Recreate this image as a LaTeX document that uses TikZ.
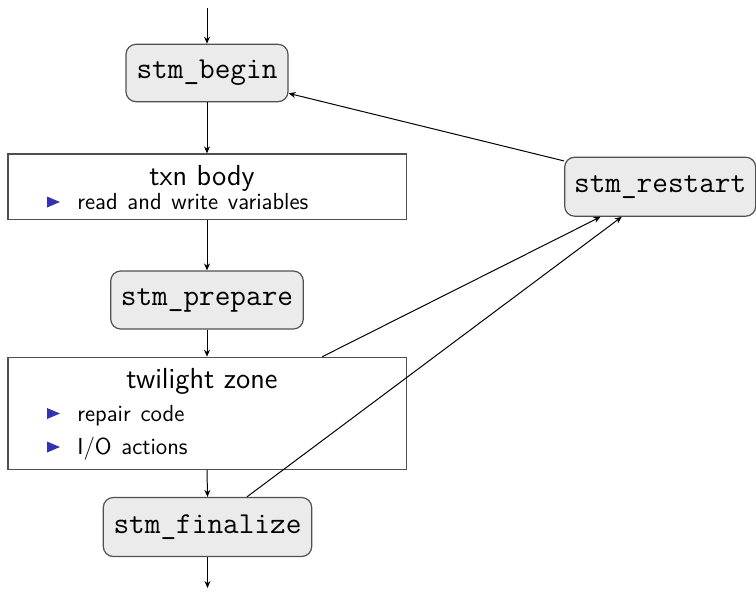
\documentclass[tikz,border=0pt]{standalone}
\usetikzlibrary{arrows.meta,calc}
\definecolor{boxfill}{RGB}{235,235,235}
\definecolor{boxline}{RGB}{80,80,80}
\definecolor{itemblue}{RGB}{51,51,178}
\newcommand\myitemfont{\fontsize{11.6}{13}\selectfont\sffamily\spaceskip=0.42em plus 0.1em\relax}
\tikzset{
  stmbox/.style={draw=boxline, line width=0.6pt, fill=boxfill, rounded corners=5pt,
    font=\fontsize{15.2}{16}\selectfont\ttfamily, inner sep=0pt, anchor=center},
  zonebox/.style={draw=boxline, line width=0.6pt, inner sep=0pt, anchor=center},
  ztitle/.style={font=\fontsize{14.5}{16}\selectfont\sffamily, anchor=base, inner sep=0pt},
  zitem/.style={font=\myitemfont, anchor=base west, inner sep=0pt},
  flow/.style={line width=0.5pt, -{Stealth[length=3.5pt,width=3pt]}},
  bullet/.style={fill=itemblue},
}
\begin{document}
\begin{tikzpicture}[x=0.5pt,y=-0.5pt]
\useasboundingbox (0,0) rectangle (756,591);
% boxes
\node[stmbox, minimum width=81pt, minimum height=28.7pt] (begin) at (207,73) {stm\_begin};
\node[zonebox, minimum width=199.35pt, minimum height=32.65pt] (txn) at (207.3,186.6) {};
\node[stmbox, minimum width=96.3pt, minimum height=29pt] (prepare) at (207,300) {stm\_prepare};
\node[zonebox, minimum width=199.35pt, minimum height=56pt] (tz) at (207.3,413.3) {};
\node[stmbox, minimum width=104.2pt, minimum height=29.5pt] (finalize) at (207.5,527) {stm\_finalize};
\node[stmbox, minimum width=95.5pt, minimum height=29.5pt] (restart) at (660.2,186.7) {stm\_restart};
% texts in txn body
\node[ztitle] (txnt) at (202,185) {txn body};
\fill[bullet] (47,196.5) -- (60,202) -- (47,207.5) -- cycle;
\node[zitem] (txni) at (77,209.5) {read and write variables};
% texts in twilight zone
\node[ztitle] (tzt) at (202,388.3) {twilight zone};
\fill[bullet] (47,408) -- (60,413.5) -- (47,419) -- cycle;
\node[zitem] (tzi1) at (77,421.7) {repair code};
\fill[bullet] (47,441.5) -- (60,447) -- (47,452.5) -- cycle;
\node[zitem] (tzi2) at (77,454.5) {I/O actions};
% free ends
\coordinate (top) at (207,8);
\coordinate (bottom) at (207.5,588);
% connectors
\draw[flow] (top) -- (begin.north);
\draw[flow] (begin.south) -- (begin.south |- txn.north);
\draw[flow] (begin.south |- txn.south) -- (prepare.north);
\draw[flow] (prepare.south) -- (prepare.south |- tz.north);
\draw[flow] (prepare.south |- tz.south) -- (finalize.north);
\draw[flow] (finalize.south) -- (bottom);
\draw[flow] (restart.165) -- (begin.-14);
\draw[flow] ($(tz.north west)!0.7875!(tz.north east)$) -- ($(restart.south west)!0.19!(restart.south east)$);
\draw[flow] ($(finalize.north west)!0.688!(finalize.north east)$) -- ($(restart.south west)!0.30!(restart.south east)$);
\end{tikzpicture}
\end{document}
